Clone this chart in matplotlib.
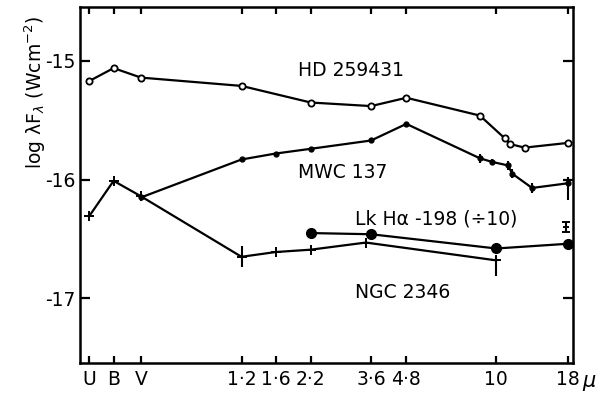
import matplotlib.pyplot as plt

plt.rcParams['axes.unicode_minus'] = False
plt.rcParams['font.family'] = 'DejaVu Sans'

# tick wavelengths (micron) and their labels
wl_ticks = [0.36, 0.44, 0.55, 1.25, 1.65, 2.2, 3.6, 4.8, 10, 18]
tick_labels = ['U', 'B', 'V', '1·2', '1·6', '2·2', '3·6', '4·8', '10', '18']

# HD 259431 (open circles)
hd_wl = [0.36, 0.44, 0.55, 1.25, 2.2, 3.6, 4.8, 8.75, 10.7, 11.2, 12.6, 18]
hd_flux = [-15.17, -15.06, -15.14, -15.21, -15.35, -15.38, -15.31,
           -15.46, -15.65, -15.70, -15.73, -15.69]

# MWC 137 (small dots)
mwc_wl = [0.55, 1.25, 1.65, 2.2, 3.6, 4.8, 8.75, 9.65, 11.0, 11.4, 13.4, 18]
mwc_flux = [-16.15, -15.83, -15.78, -15.74, -15.67, -15.53,
            -15.82, -15.85, -15.88, -15.95, -16.07, -16.03]
mwc_err_lo = [0, 0, 0, 0, 0, 0, 0.04, 0.02, 0.035, 0.04, 0.04, 0.14]
mwc_err_hi = [0, 0, 0, 0, 0, 0, 0.04, 0.02, 0.035, 0.04, 0.04, 0.05]

# NGC 2346 (crosses)
ngc_wl = [0.36, 0.44, 0.55, 1.25, 1.65, 2.2, 3.45, 10]
ngc_flux = [-16.31, -16.01, -16.14, -16.65, -16.61, -16.59, -16.53, -16.68]
ngc_err_lo = [0, 0, 0, 0.09, 0, 0, 0, 0.13]
ngc_err_hi = [0, 0, 0, 0.09, 0, 0, 0, 0.04]
ngc18_wl = [17.6]
ngc18_flux = [-16.40]

# Lk Ha -198 (/10) (big dots)
lk_wl = [2.2, 3.6, 10, 18]
lk_flux = [-16.45, -16.46, -16.58, -16.54]

fig = plt.figure(figsize=(6.05, 3.95), dpi=100)
ax = fig.add_axes([0.1322, 0.081, 0.8149, 0.9013])

lw = 1.6
ax.plot(hd_wl, hd_flux, color='black', lw=lw, marker='o', ms=4.5,
        mfc='white', mec='black', mew=1.3, zorder=3)
ax.errorbar(mwc_wl, mwc_flux, yerr=[mwc_err_lo, mwc_err_hi], color='black',
            lw=lw, marker='o', ms=3.5, elinewidth=1.5, capsize=0, zorder=3)
ax.errorbar(ngc_wl, ngc_flux, yerr=[ngc_err_lo, ngc_err_hi], color='black',
            lw=lw, marker='+', ms=6.5, mew=1.4, elinewidth=1.5, capsize=0, zorder=3)
ax.errorbar(ngc18_wl, ngc18_flux, yerr=0.04, color='black', ls='none',
            marker='+', ms=5, mew=1.4, elinewidth=1.5, capsize=3, zorder=3)
ax.plot(lk_wl, lk_flux, color='black', lw=lw, marker='o', ms=7, zorder=3)

ax.set_xscale('log')
ax.set_xlim(0.3344, 18.71)
ax.set_ylim(-17.545, -14.545)
ax.set_xticks(wl_ticks)
ax.set_xticklabels(tick_labels)
ax.set_xticks([], minor=True)
ax.set_yticks([-15, -16, -17])
ax.set_yticklabels(['-15', '-16', '-17'])

ax.tick_params(axis='x', direction='in', top=True, length=5, width=1.6,
               labelsize=13.5, pad=5)
ax.tick_params(axis='y', direction='in', right=True, length=7, width=1.6,
               labelsize=13.5, pad=3)
for s in ax.spines.values():
    s.set_linewidth(1.8)

ax.text(0.442, 0.823, 'HD 259431', transform=ax.transAxes, fontsize=13.5,
        ha='left', va='center')
ax.text(0.442, 0.534, 'MWC 137', transform=ax.transAxes, fontsize=13.5,
        ha='left', va='center')
ax.text(0.558, 0.404, 'Lk Hα -198 (÷10)', transform=ax.transAxes,
        fontsize=13.5, ha='left', va='center')
ax.text(0.558, 0.199, 'NGC 2346', transform=ax.transAxes, fontsize=13.5,
        ha='left', va='center')

fig.text(582 / 605, (395 - 381) / 395, 'μ', fontsize=15, style='italic',
         ha='left', va='center')
fig.text(35 / 605, (395 - 92) / 395, r'log λF$_\lambda$ (Wcm$^{-2}$)',
         rotation=90, fontsize=13.5, ha='center', va='center')

fig.savefig('out.png', dpi=100)
